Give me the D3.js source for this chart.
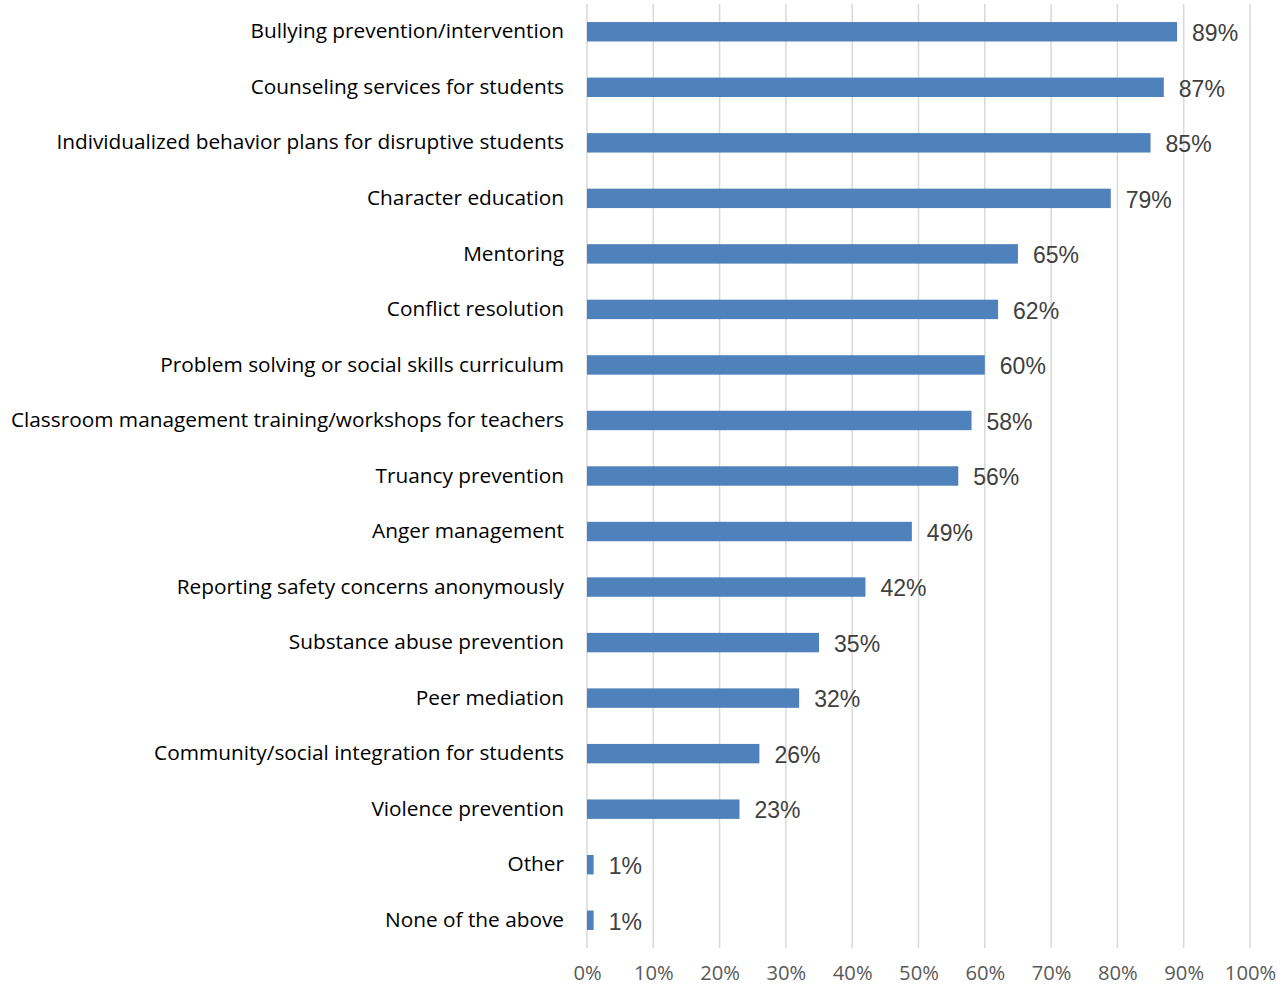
<!DOCTYPE html>
<html>
<head>
<meta charset="utf-8">
<script src="https://cdn.jsdelivr.net/npm/d3@7"></script>
<style>
  html, body { margin: 0; padding: 0; background: #fff; }
  svg { display: block; }
</style>
</head>
<body>
<svg id="chart" width="1282" height="989"></svg>
<script>
// School safety programs, share of schools offering each one
const categories = [
  "Bullying prevention/intervention",
  "Counseling services for students",
  "Individualized behavior plans for disruptive students",
  "Character education",
  "Mentoring",
  "Conflict resolution",
  "Problem solving or social skills curriculum",
  "Classroom management training/workshops for teachers",
  "Truancy prevention",
  "Anger management",
  "Reporting safety concerns anonymously",
  "Substance abuse prevention",
  "Peer mediation",
  "Community/social integration for students",
  "Violence prevention",
  "Other",
  "None of the above"
];
const values = [89, 87, 85, 79, 65, 62, 60, 58, 56, 49, 42, 35, 32, 26, 23, 1, 1];
const tickValues = [0, 10, 20, 30, 40, 50, 60, 70, 80, 90, 100];

const svg = d3.select("#chart");
const plotLeft = 587, plotRight = 1250, plotTop = 4, plotBottom = 948;

const x = d3.scaleLinear().domain([0, 100]).range([plotLeft, plotRight]);
const y = d3.scaleBand().domain(categories).range([plotTop, plotBottom]).paddingInner(0.65).paddingOuter(0.325);

// vertical gridlines
svg.append("g")
  .selectAll("line")
  .data(tickValues)
  .join("line")
  .attr("x1", d => x(d)).attr("x2", d => x(d))
  .attr("y1", plotTop).attr("y2", plotBottom)
  .attr("stroke", "#d9d9d9")
  .attr("stroke-width", 1.5);

// bars
svg.append("g")
  .selectAll("rect")
  .data(values)
  .join("rect")
  .attr("x", x(0))
  .attr("y", (d, i) => y(categories[i]))
  .attr("width", d => x(d) - x(0))
  .attr("height", y.bandwidth())
  .attr("fill", "#4f81bd");

// value labels
svg.append("g")
  .selectAll("text")
  .data(values)
  .join("text")
  .attr("x", d => x(d) + 15)
  .attr("y", (d, i) => y(categories[i]) + y.bandwidth() / 2 + 1)
  .attr("dy", "0.36em")
  .attr("font-family", "Liberation Sans, Arial, sans-serif")
  .attr("font-size", 23)
  .attr("fill", "#404040")
  .text(d => d + "%");

// category labels
const yAxis = d3.axisLeft(y).tickSize(0).tickPadding(23);
const yg = svg.append("g").attr("transform", `translate(${plotLeft},0)`).call(yAxis);
yg.select(".domain").remove();
yg.selectAll("text")
  .attr("font-family", "Open Sans, sans-serif")
  .attr("font-size", 20.8)
  .attr("fill", "#000");

// percentage axis
const xAxis = d3.axisBottom(x).tickValues(tickValues).tickFormat(d => d + "%").tickSize(0).tickPadding(18);
const xg = svg.append("g").attr("transform", `translate(0,${plotBottom})`).call(xAxis);
xg.select(".domain").remove();
xg.selectAll("text")
  .attr("font-family", "Open Sans, sans-serif")
  .attr("font-size", 20.2)
  .attr("fill", "#595959");
</script>
</body>
</html>
